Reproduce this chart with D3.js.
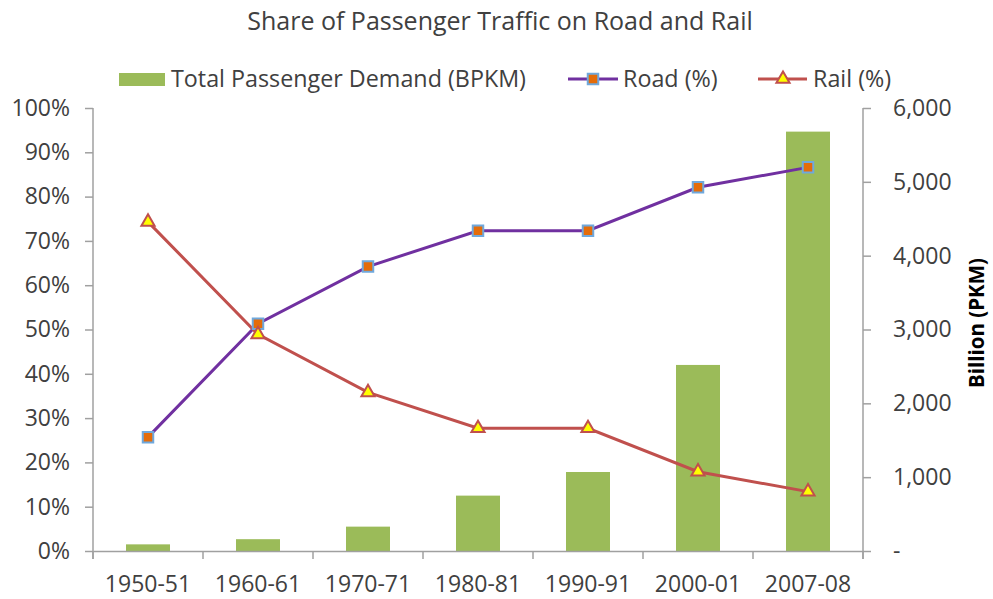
<!DOCTYPE html>
<html>
<head>
<meta charset="utf-8">
<script src="https://cdn.jsdelivr.net/npm/d3@7"></script>
<style>
  body { margin: 0; background: #fff; }
  svg { display: block; font-family: 'Open Sans', sans-serif; }
</style>
</head>
<body>
<svg id="chart" width="993" height="599"></svg>
<script>
// data
var years = ['1950-51', '1960-61', '1970-71', '1980-81', '1990-91', '2000-01', '2007-08'];
var demand = [90, 160, 330, 750, 1070, 2520, 5680];   // billion pkm
var road = [25.7, 51.3, 64.2, 72.3, 72.3, 82.1, 86.6];  // %
var rail = [74.3, 48.9, 35.8, 27.7, 27.7, 17.9, 13.4];  // %
var pctTicks = [0, 10, 20, 30, 40, 50, 60, 70, 80, 90, 100];
var bpkmTicks = [0, 1000, 2000, 3000, 4000, 5000, 6000];

var svg = d3.select('#chart');
var textColor = '#404040';
var axisColor = '#a0a0a0';
var tickFont = 23;

var plot = { left: 93, right: 863, top: 108, bottom: 551 };

var x = d3.scaleBand()
    .domain(years)
    .range([plot.left, plot.right])
    .paddingInner(0.6)
    .paddingOuter(0.3);
// band for the category ticks (no padding)
var xCat = d3.scaleBand().domain(years).range([plot.left, plot.right]);
var yPct = d3.scaleLinear().domain([0, 100]).range([plot.bottom, plot.top]);
var yBpkm = d3.scaleLinear().domain([0, 6000]).range([plot.bottom, plot.top]);

// title
svg.append('text')
    .attr('x', 500)
    .attr('y', 30)
    .attr('text-anchor', 'middle')
    .attr('font-size', 25)
    .attr('fill', textColor)
    .text('Share of Passenger Traffic on Road and Rail');

// bars
svg.append('g').selectAll('rect')
    .data(demand)
    .enter()
    .append('rect')
    .attr('x', function (d, i) { return x(years[i]); })
    .attr('width', x.bandwidth())
    .attr('y', function (d) { return yBpkm(d); })
    .attr('height', function (d) { return yBpkm(0) - yBpkm(d); })
    .attr('fill', '#9bbb59');

// left axis
var leftAxis = svg.append('g')
    .attr('transform', 'translate(' + plot.left + ',0)')
    .call(d3.axisLeft(yPct).tickValues(pctTicks).tickSize(8).tickPadding(15)
        .tickFormat(function (d) { return d + '%'; }));

// right axis
var rightAxis = svg.append('g')
    .attr('transform', 'translate(' + plot.right + ',0)')
    .call(d3.axisRight(yBpkm).tickValues(bpkmTicks).tickSize(8).tickPadding(22)
        .tickFormat(function (d) { return d === 0 ? '-' : d3.format(',')(d); }));

// bottom axis
var bottomAxis = svg.append('g')
    .attr('transform', 'translate(0,' + plot.bottom + ')')
    .call(d3.axisBottom(xCat).tickSize(0).tickPadding(16));

// category separators on the bottom axis
svg.append('g').selectAll('line')
    .data(d3.range(years.length + 1))
    .enter()
    .append('line')
    .attr('x1', function (i) { return plot.left + i * xCat.step(); })
    .attr('x2', function (i) { return plot.left + i * xCat.step(); })
    .attr('y1', plot.bottom)
    .attr('y2', plot.bottom + 8)
    .attr('stroke', axisColor)
    .attr('stroke-width', 1.5);

[leftAxis, rightAxis, bottomAxis].forEach(function (g) {
    g.select('.domain').attr('stroke', axisColor).attr('stroke-width', 1.5);
    g.selectAll('.tick line').attr('stroke', axisColor).attr('stroke-width', 1.5);
    g.selectAll('.tick text')
        .attr('fill', textColor)
        .attr('font-size', tickFont)
        .attr('font-family', "'Open Sans', sans-serif");
});
leftAxis.select('.domain').attr('d', 'M0,' + plot.top + 'V' + (plot.bottom + 8));
rightAxis.select('.domain').attr('d', 'M0,' + plot.top + 'V' + (plot.bottom + 8));
rightAxis.selectAll('.tick text').attr('text-anchor', 'start');
bottomAxis.selectAll('.tick text').attr('y', 41).attr('dy', 0);

// right axis title
svg.append('text')
    .attr('transform', 'translate(984,323) rotate(-90)')
    .attr('text-anchor', 'middle')
    .attr('font-size', 20.5)
    .attr('font-weight', 'bold')
    .attr('fill', '#000')
    .text('Billion (PKM)');

// lines
function cx(i) { return x(years[i]) + x.bandwidth() / 2; }
var line = d3.line()
    .x(function (d, i) { return cx(i); })
    .y(function (d) { return yPct(d); });

svg.append('path')
    .datum(road)
    .attr('d', line)
    .attr('fill', 'none')
    .attr('stroke', '#7030a0')
    .attr('stroke-width', 3);

svg.append('path')
    .datum(rail)
    .attr('d', line)
    .attr('fill', 'none')
    .attr('stroke', '#c0504d')
    .attr('stroke-width', 3);

// markers
var square = d3.symbol().type(d3.symbolSquare).size(110);
var triangle = d3.symbol().type(d3.symbolTriangle).size(75);

svg.append('g').selectAll('path')
    .data(road)
    .enter()
    .append('path')
    .attr('d', square)
    .attr('transform', function (d, i) { return 'translate(' + cx(i) + ',' + yPct(d) + ')'; })
    .attr('fill', '#e46c0a')
    .attr('stroke', '#6fa8dc')
    .attr('stroke-width', 2);

svg.append('g').selectAll('path')
    .data(rail)
    .enter()
    .append('path')
    .attr('d', triangle)
    .attr('transform', function (d, i) { return 'translate(' + cx(i) + ',' + yPct(d) + ')'; })
    .attr('fill', '#ffff00')
    .attr('stroke', '#c0504d')
    .attr('stroke-width', 2);

// legend
var legend = svg.append('g').attr('font-size', 23.3).attr('fill', textColor);
legend.append('rect')
    .attr('x', 119).attr('y', 73).attr('width', 46).attr('height', 13)
    .attr('fill', '#9bbb59');
legend.append('text').attr('x', 171).attr('y', 87).text('Total Passenger Demand (BPKM)');

legend.append('line')
    .attr('x1', 568).attr('x2', 618).attr('y1', 79).attr('y2', 79)
    .attr('stroke', '#7030a0').attr('stroke-width', 3);
legend.append('path')
    .attr('d', square)
    .attr('transform', 'translate(593,79)')
    .attr('fill', '#e46c0a').attr('stroke', '#6fa8dc').attr('stroke-width', 2);
legend.append('text').attr('x', 623).attr('y', 87).text('Road (%)');

legend.append('line')
    .attr('x1', 758).attr('x2', 807).attr('y1', 79).attr('y2', 79)
    .attr('stroke', '#c0504d').attr('stroke-width', 3);
legend.append('path')
    .attr('d', triangle)
    .attr('transform', 'translate(783,79)')
    .attr('fill', '#ffff00').attr('stroke', '#c0504d').attr('stroke-width', 2);
legend.append('text').attr('x', 813).attr('y', 87).text('Rail (%)');
</script>
</body>
</html>
